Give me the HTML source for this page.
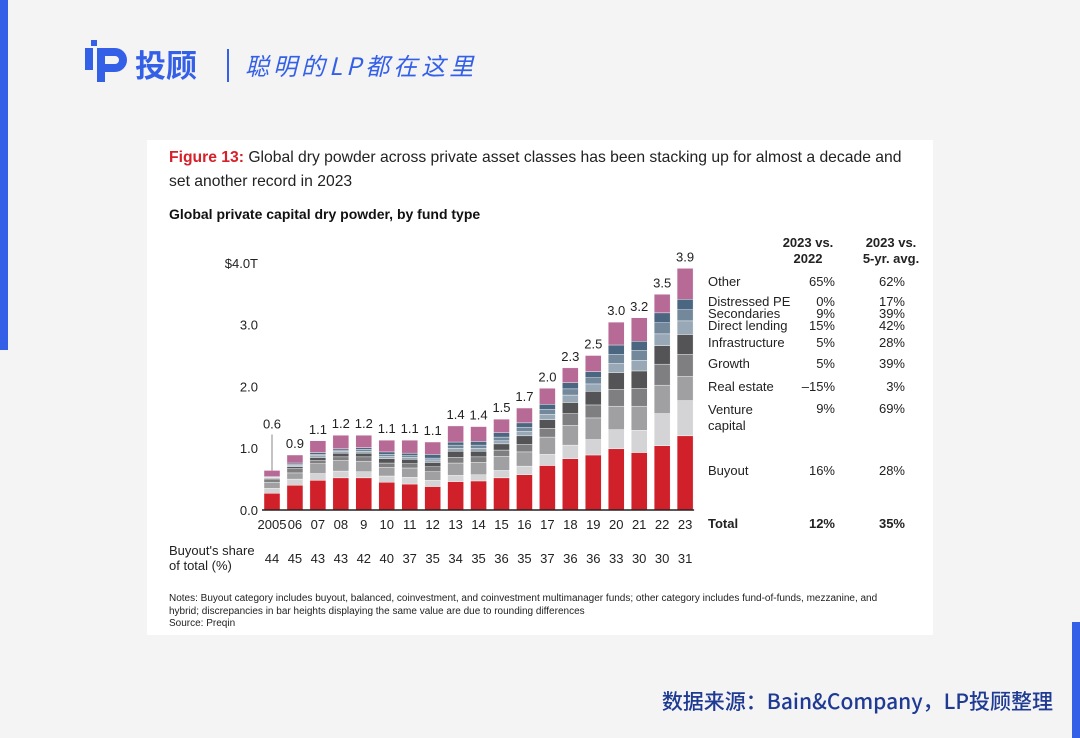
<!DOCTYPE html>
<html><head><meta charset="utf-8">
<style>
body{margin:0;width:1080px;height:738px;background:#f4f4f5;position:relative;overflow:hidden;font-family:"Liberation Sans","Noto Sans CJK SC",sans-serif;}
.abs{position:absolute;}
#card{left:147px;top:140px;width:786px;height:495px;background:#fff;}
.t{position:absolute;font-size:13px;color:#222;white-space:nowrap;}
.r{text-align:right;}
</style></head><body>
<div class="abs" style="left:0;top:0;width:8px;height:350px;background:#3460e8"></div>
<div class="abs" style="left:1072px;top:622px;width:8px;height:116px;background:#3460e8"></div>
<div class="abs" style="left:85px;top:40px;height:45px;">
<svg width="46" height="44" viewBox="0 0 46 44"><rect x="6" y="0" width="6" height="6" fill="#3460e8"/><rect x="0" y="8" width="8" height="22" fill="#3460e8"/><path d="M12 8h18a12 12 0 0 1 0 24h-10v10h-8zM20 16v8h10a4 4 0 0 0 0-8z" fill="#3460e8"/></svg>
</div>
<div class="abs" style="left:135px;top:44px;font-size:31px;font-weight:bold;color:#3460e8;font-family:'Noto Sans CJK SC',sans-serif;line-height:40px">投顾</div>
<div class="abs" style="left:227px;top:49px;width:2px;height:33px;background:#3460e8"></div>
<div class="abs" style="left:245px;top:48px;font-size:24px;color:#3460e8;font-style:italic;letter-spacing:4px;font-family:'Noto Sans CJK SC',sans-serif;line-height:34px">聪明的LP都在这里</div>

<div id="card" class="abs"></div>
<div class="abs" style="left:169px;top:146px;width:750px;font-size:15.7px;line-height:24px;color:#222"><b style="color:#d6202a">Figure 13:</b> Global dry powder across private asset classes has been stacking up for almost a decade and set another record in 2023</div>
<div class="abs" style="left:169px;top:206px;font-size:14px;font-weight:bold;color:#111">Global private capital dry powder, by fund type</div>

<svg class="abs" style="left:0;top:0" width="1080" height="738" id="chart"></svg>

<div class="t" style="left:169px;top:543px;line-height:15px">Buyout's share<br>of total (%)</div>

<div class="t" style="left:780px;top:235px;width:56px;text-align:center;font-weight:bold;line-height:16px">2023 vs.<br>2022</div>
<div class="t" style="left:858px;top:235px;width:66px;text-align:center;font-weight:bold;line-height:16px">2023 vs.<br>5-yr. avg.</div>
<div id="table"></div>

<div class="abs" style="left:169px;top:593px;font-size:10px;line-height:12.5px;color:#222;width:715px">Notes: Buyout category includes buyout, balanced, coinvestment, and coinvestment multimanager funds; other category includes fund-of-funds, mezzanine, and hybrid; discrepancies in bar heights displaying the same value are due to rounding differences<br>Source: Preqin</div>
<div class="abs" style="right:27px;top:686px;font-size:21px;color:#1f3a93;font-family:'Noto Sans CJK SC',sans-serif;font-weight:500">数据来源：Bain&amp;Company，LP投顾整理</div>

<script>
const years=['2005','06','07','08','9','10','11','12','13','14','15','16','17','18','19','20','21','22','23'];
const totals=['0.6','0.9','1.1','1.2','1.2','1.1','1.1','1.1','1.4','1.4','1.5','1.7','2.0','2.3','2.5','3.0','3.2','3.5','3.9'];
const buyoutShare=[44,45,43,43,42,40,37,35,34,35,36,35,37,36,36,33,30,30,31];
const buyout=[.27,.40,.48,.52,.52,.45,.42,.38,.46,.47,.52,.57,.72,.83,.89,.99,.93,1.04,1.20];
const venture=[.08,.10,.11,.11,.10,.10,.11,.10,.10,.10,.12,.14,.18,.22,.25,.31,.36,.52,.57];
const realEstate=[.10,.10,.16,.17,.17,.14,.15,.14,.20,.20,.23,.23,.28,.32,.35,.38,.39,.46,.39];
const growth=[.04,.07,.05,.06,.07,.07,.07,.08,.09,.09,.10,.12,.14,.19,.21,.27,.29,.34,.36];
const infra=[.02,.03,.05,.06,.06,.07,.07,.07,.10,.09,.10,.14,.14,.18,.22,.27,.28,.30,.32];
const directLending=[.01,.02,.03,.03,.03,.04,.03,.04,.05,.05,.05,.07,.09,.12,.12,.15,.17,.19,.22];
const secondaries=[.01,.02,.02,.02,.03,.03,.03,.03,.05,.05,.06,.07,.08,.10,.10,.15,.16,.18,.18];
const distressed=[.01,.02,.03,.02,.03,.04,.04,.06,.05,.06,.07,.07,.08,.10,.10,.15,.15,.16,.17];
const other=[.10,.13,.19,.22,.20,.19,.21,.20,.26,.24,.22,.24,.26,.24,.26,.37,.38,.30,.50];
const yTicks=[0,1,2,3,4];
const yTickLabels=['0.0','1.0','2.0','3.0','$4.0T'];
const seriesNames=['buyout','venture','real-estate','growth','infrastructure','direct-lending','secondaries','distressed','other'];
const rowLabels=['Other','Distressed PE','Secondaries','Direct lending','Infrastructure','Growth','Real estate','Venture<br>capital','Buyout'];
const vs2022=['65%','0%','9%','15%','5%','5%','–15%','9%','16%'];
const vs5yr=['62%','17%','39%','42%','28%','39%','3%','69%','28%'];
const totalVs=['12%','35%'];

const series=[buyout,venture,realEstate,growth,infra,directLending,secondaries,distressed,other];
const colors=['#d0202a','#d4d4d6','#a0a0a2','#7f7f81','#545456','#98a8b6','#73889b','#4b6680','#b86a97'];
const NS='http://www.w3.org/2000/svg';
const svg=document.getElementById('chart');
const y0=510,ppu=61.8,x0=264,step=22.95,bw=16;
const Y=v=>y0-v*ppu, X=i=>x0+i*step;
function mk(tag,attrs){const e=document.createElementNS(NS,tag);for(const k in attrs)e.setAttribute(k,attrs[k]);svg.appendChild(e);return e;}
yTicks.forEach((t,i)=>{const e=mk('text',{x:258,y:Y(t)+5,'text-anchor':'end','font-size':13,fill:'#222','font-family':'Liberation Sans'});e.textContent=yTickLabels[i];

});
years.forEach((yr,i)=>{
 let acc=0;
 series.forEach((s,k)=>{const r=mk('rect',{x:X(i),y:Y(acc+s[i]),width:bw,height:s[i]*ppu,fill:colors[k],stroke:'#fff','stroke-width':0.4});
 
 
 acc+=s[i];});
 const ty=i===0?Y(acc)-42:Y(acc)-7;
 if(i===0){const l=mk('line',{x1:X(i)+bw/2,x2:X(i)+bw/2,y1:ty+6,y2:Y(acc),stroke:'#888','stroke-width':1});
 
 }
 const t=mk('text',{x:X(i)+bw/2,y:ty,'text-anchor':'middle','font-size':13,fill:'#222','font-family':'Liberation Sans'});t.textContent=totals[i];
 
 
 const xl=mk('text',{x:X(i)+bw/2,y:529,'text-anchor':'middle','font-size':13,fill:'#222','font-family':'Liberation Sans'});xl.textContent=yr;
 
 
 const sh=mk('text',{x:X(i)+bw/2,y:563,'text-anchor':'middle','font-size':13,fill:'#222','font-family':'Liberation Sans'});sh.textContent=buyoutShare[i];
 
 
});
const ax=mk('line',{x1:X(0)-2,x2:X(years.length-1)+bw+1,y1:y0,y2:y0,stroke:'#222','stroke-width':1.5});



const rowY=[283,303,315,327,344,365,388,410,472];
const tb=document.getElementById('table');
rowLabels.forEach((lab,i)=>{
 const a=document.createElement('div');a.className='t';a.style.cssText=`left:708px;top:${rowY[i]-8}px;line-height:${i===7?16:13}px`;a.innerHTML=lab;
 
 
 tb.appendChild(a);
 const b=document.createElement('div');b.className='t r';b.style.cssText=`left:785px;width:50px;top:${rowY[i]-8}px;line-height:13px`;b.textContent=vs2022[i];
 
 
 tb.appendChild(b);
 const c=document.createElement('div');c.className='t r';c.style.cssText=`left:855px;width:50px;top:${rowY[i]-8}px;line-height:13px`;c.textContent=vs5yr[i];
 
 
 tb.appendChild(c);
});
const tot=document.createElement('div');tot.className='t';tot.style.cssText='left:708px;top:516px;font-weight:bold';tot.textContent='Total';


tb.appendChild(tot);
[[785,totalVs[0]],[855,totalVs[1]]].forEach(([x,v])=>{const d=document.createElement('div');d.className='t r';d.style.cssText=`left:${x}px;width:50px;top:516px;font-weight:bold`;d.textContent=v;


tb.appendChild(d);});
</script>
</body></html>
